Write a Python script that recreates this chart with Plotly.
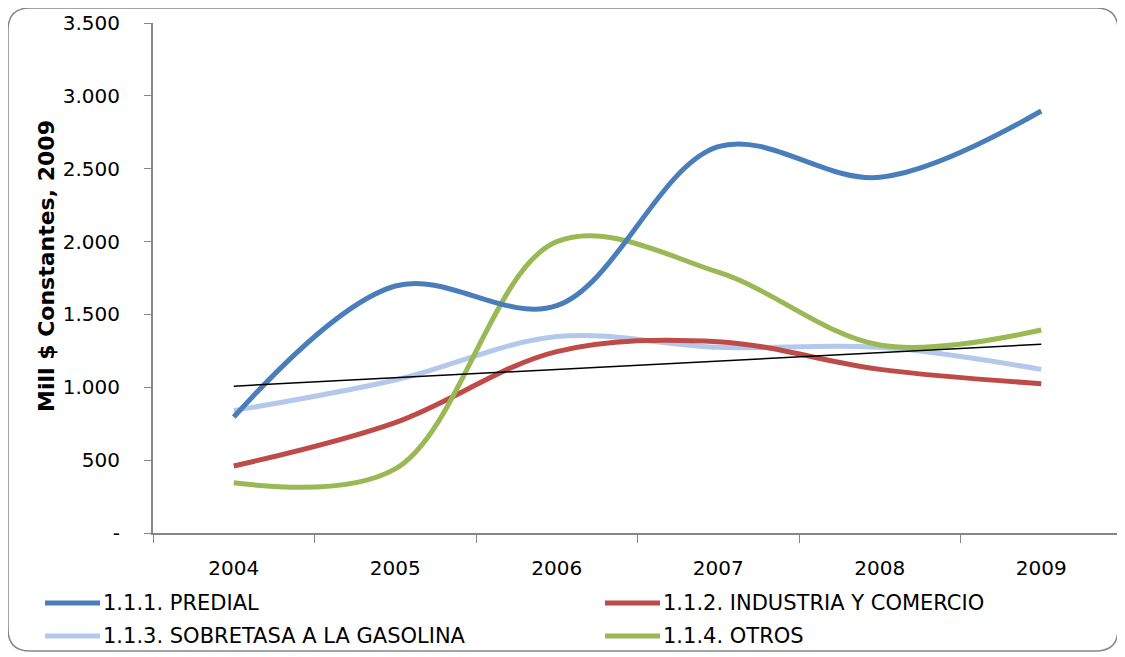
import numpy as np
import plotly.graph_objects as go

years = ["2004", "2005", "2006", "2007", "2008", "2009"]
predial = [796, 1695, 1560, 2651, 2441, 2896]
industria = [460, 758, 1245, 1313, 1123, 1025]
sobretasa = [840, 1050, 1348, 1274, 1274, 1123]
otros = [345, 440, 2000, 1790, 1290, 1393]

names = ["1.1.1. PREDIAL", "1.1.2. INDUSTRIA Y COMERCIO",
         "1.1.3. SOBRETASA A LA GASOLINA", "1.1.4. OTROS"]
colors = ["#4A7EBB", "#BE4B48", "#B4C8EB", "#98B954"]

y_ticks = [0, 500, 1000, 1500, 2000, 2500, 3000, 3500]
y_ticktext = ["-", "500", "1.000", "1.500", "2.000", "2.500", "3.000", "3.500"]

# linear trendline of SOBRETASA
xi = np.arange(len(years))
slope, intercept = np.polyfit(xi, sobretasa, 1)
trend = list(intercept + slope * xi)

# page body has an 8px margin; figure coordinates are offset accordingly
W, H = 1117, 649
L, T = 145, 15
PW, PH = 969, 510
R = W - L - PW
B = H - T - PH

def px(x):
    return (x - 153) / PW

def py(y):
    return (533 - y) / PH

FONT = "DejaVu Sans"

fig = go.Figure()
series = [predial, industria, sobretasa, otros]
order = [2, 1, 3, 0]
for i in order:
    fig.add_trace(go.Scatter(
        x=years, y=series[i], mode="lines", name=names[i],
        line=dict(color=colors[i], width=5, shape="spline", smoothing=1.0),
        showlegend=False, hoverinfo="skip"))

fig.add_trace(go.Scatter(
    x=years, y=trend, mode="lines", line=dict(color="black", width=1.5),
    showlegend=False, hoverinfo="skip"))

fig.update_layout(
    width=W, height=H,
    margin=dict(l=L, r=R, t=T, b=B),
    plot_bgcolor="white", paper_bgcolor="white",
    font=dict(family=FONT, size=20, color="black"),
    xaxis=dict(type="category", range=[-0.5, 5.5], tickson="boundaries",
               ticks="outside", ticklen=8, tickcolor="#868686",
               showline=True, linecolor="#868686", linewidth=2,
               showgrid=False, zeroline=False, ticklabelstandoff=16,
               tickfont=dict(family=FONT, size=20)),
    yaxis=dict(range=[0, 3500], tickvals=y_ticks, ticktext=y_ticktext,
               ticks="outside", ticklen=7, tickcolor="#868686",
               showline=True, linecolor="#868686", linewidth=2,
               showgrid=False, zeroline=False, ticklabelstandoff=20,
               tickfont=dict(family=FONT, size=20)),
)

# y-axis title
fig.add_annotation(xref="paper", yref="paper", x=px(46), y=py(266),
                   text="<b>Mill $ Constantes, 2009</b>", textangle=-90,
                   showarrow=False, font=dict(family=FONT, size=22, color="black"),
                   xanchor="center", yanchor="middle")

# legend (manual)
leg_pos = [(45, 603), (605, 603), (45, 636), (605, 636)]
for i, (lx, ly) in enumerate(leg_pos):
    fig.add_shape(type="line", xref="paper", yref="paper",
                  x0=px(lx), x1=px(lx + 55), y0=py(ly), y1=py(ly),
                  line=dict(color=colors[i], width=5))
    fig.add_annotation(xref="paper", yref="paper", x=px(lx + 56), y=py(ly),
                       text=names[i], showarrow=False, xanchor="left",
                       yanchor="middle", font=dict(family=FONT, size=21, color="black"))

# rounded border
x0, x1, y0, y1, r = 8, 1118, 8, 651, 22
path = (f"M {px(x0 + r)},{py(y0)} L {px(x1 - r)},{py(y0)} "
        f"Q {px(x1)},{py(y0)} {px(x1)},{py(y0 + r)} "
        f"L {px(x1)},{py(y1 - r)} Q {px(x1)},{py(y1)} {px(x1 - r)},{py(y1)} "
        f"L {px(x0 + r)},{py(y1)} Q {px(x0)},{py(y1)} {px(x0)},{py(y1 - r)} "
        f"L {px(x0)},{py(y0 + r)} Q {px(x0)},{py(y0)} {px(x0 + r)},{py(y0)} Z")
fig.add_shape(type="path", xref="paper", yref="paper", path=path,
              line=dict(color="#868686", width=1.5), layer="below")

fig.write_html("out.html")
